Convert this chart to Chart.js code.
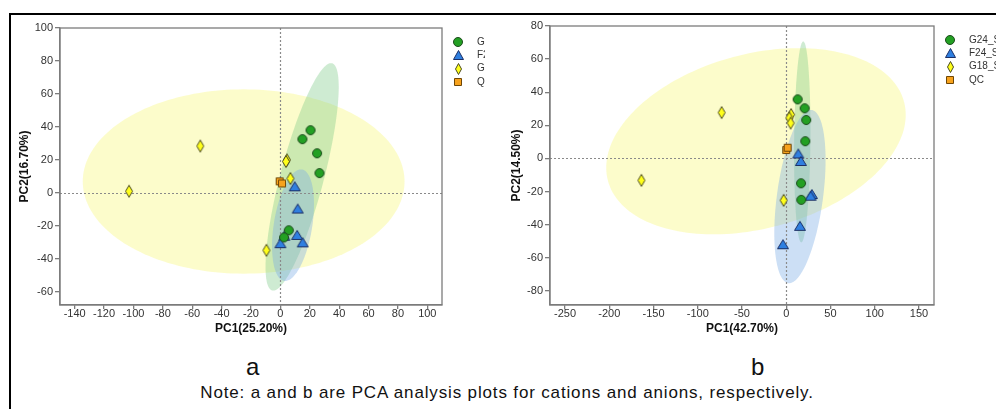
<!DOCTYPE html>
<html>
<head>
<meta charset="utf-8">
<script src="https://cdn.jsdelivr.net/npm/chart.js@4.4.0/dist/chart.umd.min.js"></script>
<style>
html, body { margin: 0; padding: 0; background: #fff; }
body { width: 996px; height: 409px; position: relative; overflow: hidden; font-family: "Liberation Sans", Arial, sans-serif; }
#frame { position: absolute; left: 9px; top: 13px; width: 1000px; height: 400px; border-top: 2px solid #000; border-left: 2px solid #000; }
#wrapA { position: absolute; left: 11px; top: 15px; width: 474px; height: 326px; }
#wrapB { position: absolute; left: 497px; top: 15px; width: 499px; height: 326px; }
.lab { position: absolute; font-size: 24px; line-height: 24px; color: #111; }
#note { position: absolute; left: 0; width: 1014px; top: 384px; text-align: center; font-size: 17px; line-height: 17px; letter-spacing: 0.85px; color: #111; }
</style>
</head>
<body>
<div id="frame"></div>
<div id="wrapA"><canvas id="pcaCation" width="474" height="326"></canvas></div>
<div id="wrapB"><canvas id="pcaAnion" width="499" height="326"></canvas></div>
<div class="lab" style="left:246px; top:355px;">a</div>
<div class="lab" style="left:751px; top:355px;">b</div>
<div id="note">Note: a and b are PCA analysis plots for cations and anions, respectively.</div>

<script>
const groups = ['G24_S', 'F24_S', 'G18_S', 'QC'];

// a: cations
const catG24 = [{x: 20.5, y: 38}, {x: 15, y: 32.6}, {x: 25, y: 24}, {x: 26.6, y: 12}, {x: 5.7, y: -22.7}, {x: 2.5, y: -27}];
const catF24 = [{x: 9.8, y: 4}, {x: 11.8, y: -9.5}, {x: 11.4, y: -25.5}, {x: 15.2, y: -30}, {x: 2.7, y: -26}, {x: 0, y: -30.5}];
const catG18 = [{x: -54.5, y: 28.4}, {x: -103, y: 1}, {x: 4.5, y: 20}, {x: 3.8, y: 19}, {x: 6.8, y: 8.7}, {x: -9.5, y: -34.8}];
const catQC = [{x: -0.5, y: 7}, {x: 1.1, y: 5.7}];
const catXTicks = [-140, -120, -100, -80, -60, -40, -20, 0, 20, 40, 60, 80, 100];
const catYTicks = [-60, -40, -20, 0, 20, 40, 60, 80, 100];

// b: anions
const aniG24 = [{x: 12.9, y: 35.7}, {x: 20.8, y: 30.3}, {x: 22.6, y: 23.2}, {x: 21.5, y: 10.4}, {x: 16.7, y: -15}, {x: 17, y: -25}];
const aniF24 = [{x: 13.6, y: 3}, {x: 16.6, y: -1.5}, {x: 29, y: -21.5}, {x: 27.5, y: -22.5}, {x: 15.5, y: -40.7}, {x: -3.7, y: -51.8}];
const aniG18 = [{x: -73, y: 27.7}, {x: -163.7, y: -13.2}, {x: 5.5, y: 26.5}, {x: 3.5, y: 24.5}, {x: 5, y: 21.4}, {x: -2.9, y: -25.3}];
const aniQC = [{x: 0, y: 5.1}, {x: 1.6, y: 6.5}];
const aniXTicks = [-250, -200, -150, -100, -50, 0, 50, 100, 150];
const aniYTicks = [-80, -60, -40, -20, 0, 20, 40, 60, 80];

// confidence ellipses: [cx, cy, ux, uy, vx, vy] = centre and two half-axis vectors (data units)
const catEllG18 = [-25, 6.9, 109.5, 0, 0, 55.9];
const catEllG24 = [14.8, 9.7, 20.4, 68.9, 14.3, -3.4];
const catEllF24 = [8.6, -19.6, 6.1, 33.8, 12.9, -1.9];
const aniEllG18 = [-34.2, 10.4, 167.3, 23.9, 25.5, -50.9];
const aniEllG24 = [18.1, 10, 1.1, 60.7, 9.2, 0];
const aniEllF24 = [15.5, -23, 13.2, 52.3, 25.8, -1.9];

// marker sprites
function makeMarker(kind, w, h, fill, stroke) {
    const c = document.createElement('canvas');
    c.width = w + 2; c.height = h + 2;
    const g = c.getContext('2d');
    g.fillStyle = fill; g.strokeStyle = stroke; g.lineWidth = 1;
    g.beginPath();
    const x0 = 1, y0 = 1;
    if (kind === 'circle') {
        g.ellipse(x0 + w / 2, y0 + h / 2, w / 2 - 0.5, h / 2 - 0.5, 0, 0, Math.PI * 2);
    } else if (kind === 'triangle') {
        g.moveTo(x0 + w / 2, y0 + 0.5);
        g.lineTo(x0 + w - 0.5, y0 + h - 0.5);
        g.lineTo(x0 + 0.5, y0 + h - 0.5);
        g.closePath();
    } else if (kind === 'diamond') {
        g.moveTo(x0 + w / 2, y0 + 0.5);
        g.lineTo(x0 + w - 0.5, y0 + h / 2);
        g.lineTo(x0 + w / 2, y0 + h - 0.5);
        g.lineTo(x0 + 0.5, y0 + h / 2);
        g.closePath();
    } else {
        g.rect(x0 + 0.5, y0 + 0.5, w - 1, h - 1);
    }
    g.fill(); g.stroke();
    return c;
}
const markers = [
    makeMarker('circle', 10, 10, '#23a023', '#1c4a1c'),
    makeMarker('triangle', 12, 10, '#2f7fe0', '#1b2f66'),
    makeMarker('diamond', 8, 13, '#ffff1a', '#4a4a20'),
    makeMarker('square', 8, 8, '#f7a21c', '#6e4606')
];
const legendMarkers = [
    makeMarker('circle', 10, 10, '#23a023', '#1c4a1c'),
    makeMarker('triangle', 11, 10, '#2f7fe0', '#1b2f66'),
    makeMarker('diamond', 7, 12, '#ffff1a', '#4a4a20'),
    makeMarker('square', 8, 8, '#f7a21c', '#6e4606')
];

const ellipseFills = {
    G18: 'rgba(248,248,140,0.45)',
    G24: 'rgba(120,200,130,0.36)',
    F24: 'rgba(120,170,230,0.38)'
};

const pcaPlugin = {
    id: 'pcaDecor',
    beforeDatasetsDraw(chart) {
        const {ctx, chartArea: a, scales: {x, y}} = chart;
        const ells = chart.options.plugins.pcaDecor.ellipses;
        ctx.save();
        ctx.beginPath();
        ctx.rect(a.left, a.top, a.right - a.left, a.bottom - a.top);
        ctx.clip();
        ells.forEach(([e, col]) => {
            const [cx, cy, ux, uy, vx, vy] = e;
            ctx.beginPath();
            for (let i = 0; i <= 180; i++) {
                const t = i / 180 * Math.PI * 2;
                const px = x.getPixelForValue(cx + Math.cos(t) * ux + Math.sin(t) * vx);
                const py = y.getPixelForValue(cy + Math.cos(t) * uy + Math.sin(t) * vy);
                if (i) ctx.lineTo(px, py); else ctx.moveTo(px, py);
            }
            ctx.closePath();
            ctx.fillStyle = col;
            ctx.fill();
        });
        // zero reference lines
        ctx.strokeStyle = '#8a8a8a';
        ctx.lineWidth = 1.2;
        ctx.setLineDash([2, 2]);
        const x0 = Math.round(x.getPixelForValue(0)) + 0.5;
        const y0 = Math.round(y.getPixelForValue(0)) + 0.5;
        ctx.beginPath();
        ctx.moveTo(x0, a.top); ctx.lineTo(x0, a.bottom);
        ctx.moveTo(a.left, y0); ctx.lineTo(a.right, y0);
        ctx.stroke();
        ctx.restore();
        // frame
        ctx.save();
        ctx.strokeStyle = '#7c7c7c';
        ctx.lineWidth = 1.3;
        ctx.strokeRect(a.left, a.top, a.right - a.left, a.bottom - a.top);
        ctx.restore();
    },
    afterDraw(chart) {
        const {ctx, chartArea: a} = chart;
        ctx.save();
        ctx.font = '10px "Liberation Sans", Arial, sans-serif';
        ctx.fillStyle = '#333';
        ctx.textBaseline = 'middle';
        groups.forEach((name, i) => {
            const cy = a.top + 14 + i * 13.3;
            const m = legendMarkers[i];
            ctx.drawImage(m, Math.round(a.right + 16 - m.width / 2), Math.round(cy - m.height / 2));
            ctx.fillText(name, a.right + 35, cy);
        });
        ctx.restore();
    }
};

function axis(min, max, tickVals, title, size, titlePad, tickLen, tickPad) {
    return {
        type: 'linear', min, max,
        afterBuildTicks: s => { s.ticks = tickVals.map(v => ({value: v})); },
        afterFit: s => { if (s.isHorizontal()) s.height = size; else s.width = size; },
        grid: {drawOnChartArea: false, drawTicks: true, tickLength: tickLen, color: '#7c7c7c', lineWidth: 1.3},
        border: {display: true, color: '#7c7c7c', width: 1.3},
        ticks: {font: {family: '"Liberation Sans", Arial, sans-serif', size: 11}, color: '#333', padding: tickPad, maxRotation: 0, autoSkip: false},
        title: {display: true, text: title, color: '#111', font: {family: '"Liberation Sans", Arial, sans-serif', size: 12, weight: 'bold'}, padding: titlePad}
    };
}

function pcaChart(id, sets, ellipses, xs, ys, pad) {
    const datasets = sets.map((d, i) => ({
        label: groups[i], data: d, pointStyle: markers[i], pointRadius: 5, showLine: false
    }));
    return new Chart(document.getElementById(id), {
        type: 'scatter',
        data: {datasets},
        options: {
            responsive: false, animation: false, events: [],
            layout: {padding: pad},
            scales: {x: xs, y: ys},
            plugins: {legend: {display: false}, tooltip: {enabled: false}, pcaDecor: {ellipses}}
        },
        plugins: [pcaPlugin]
    });
}

pcaChart('pcaCation',
    [catG24, catF24, catG18, catQC],
    [[catEllG18, ellipseFills.G18], [catEllG24, ellipseFills.G24], [catEllF24, ellipseFills.F24]],
    axis(-150, 110, catXTicks, 'PC1(25.20%)', 36, {top: 0, bottom: 5}, 4, -2),
    axis(-68, 100, catYTicks, 'PC2(16.70%)', 49, {top: 6, bottom: 0}, 5, 2),
    {left: 0, top: 13, right: 43, bottom: 0});

pcaChart('pcaAnion',
    [aniG24, aniF24, aniG18, aniQC],
    [[aniEllG18, ellipseFills.G18], [aniEllG24, ellipseFills.G24], [aniEllF24, ellipseFills.F24]],
    axis(-267, 167, aniXTicks, 'PC1(42.70%)', 36, {top: 0, bottom: 5}, 4, -2),
    axis(-88.5, 80, aniYTicks, 'PC2(14.50%)', 53, {top: 12, bottom: 0}, 5, 2),
    {left: 0, top: 11, right: 62, bottom: 0});
</script>
</body>
</html>
